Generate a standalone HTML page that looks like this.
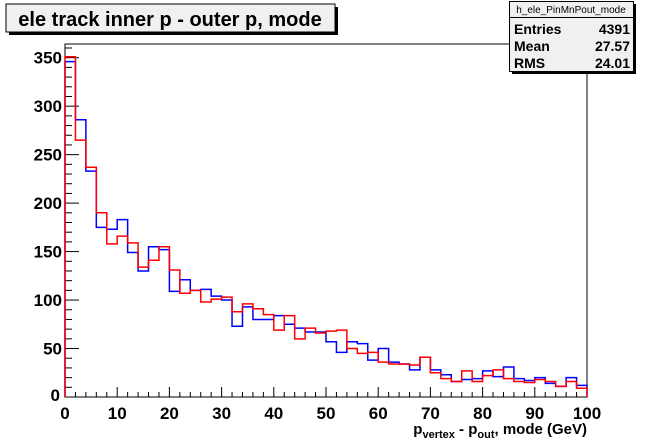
<!DOCTYPE html>
<html><head><meta charset="utf-8"><style>
body{margin:0;background:#fff;}
svg{display:block;font-family:"Liberation Sans",Arial,sans-serif;font-weight:bold;}
</style></head><body>
<svg width="653" height="441" viewBox="0 0 653 441">
<rect x="0" y="0" width="653" height="441" fill="#fff"/>
<g>
<rect x="9" y="7" width="329" height="28" fill="#000"/>
<rect x="6" y="4" width="329" height="28" fill="#f0f0f0" stroke="#000" stroke-width="1"/>
<text x="170" y="26" font-size="20" text-anchor="middle">ele track inner p - outer p, mode</text>
</g>
<rect x="65" y="44" width="522" height="353" fill="none" stroke="#000" stroke-width="1"/>
<g id="axes"></g>
<g id="series"></g>
<g>
<rect x="512" y="4" width="124" height="70" fill="#000"/>
<rect x="509.5" y="1.5" width="124" height="70" fill="#f0f0f0" stroke="#000" stroke-width="1"/>
<line x1="509.5" y1="17.5" x2="633.5" y2="17.5" stroke="#000"/>
<text x="571" y="13" font-size="10" font-weight="normal" text-anchor="middle">h_ele_PinMnPout_mode</text>
<text x="514" y="34" font-size="14">Entries</text>
<text x="630" y="34" font-size="14" text-anchor="end">4391</text>
<text x="514" y="51" font-size="14">Mean</text>
<text x="630" y="51" font-size="14" text-anchor="end">27.57</text>
<text x="514" y="68" font-size="14">RMS</text>
<text x="630" y="68" font-size="14" text-anchor="end">24.01</text>
</g>
<text x="587" y="434" font-size="15" text-anchor="end">p<tspan font-size="11" dy="4">vertex</tspan><tspan dy="-4"> - p</tspan><tspan font-size="11" dy="4">out</tspan><tspan dy="-4">, mode (GeV)</tspan></text>
</svg>
<script>
const xTicks=[0,10,20,30,40,50,60,70,80,90,100];
const yTicks=[0,50,100,150,200,250,300,350];
const binEdgesMin=0, binWidth=2;
const redVals=[351,265,237,190,158,166,159,134,141,155,131,107,110,98,101,103,88,96,91,85,69,84,60,71,66,68,69,50,45,46,36,34,34,33,41,25,19,16,27,16,22,28,19,16,15,18,16,11,16,9];
const blueVals=[346,286,233,175,173,183,149,130,155,152,109,121,110,111,104,100,73,93,80,80,84,75,71,67,67,57,46,57,55,38,50,36,34,28,41,28,23,16,18,19,27,21,31,19,17,20,14,11,20,12];
const NS="http://www.w3.org/2000/svg";
const X0=65,X1=587,Y0=397,Y350=57.7;
function xs(v){return X0+(v-0)/(100-0)*(X1-X0);}
function ys(v){return Y0-v*(Y0-Y350)/350;}
const axes=document.getElementById('axes');
function ln(x1,y1,x2,y2,name){const l=document.createElementNS(NS,'line');l.setAttribute('x1',x1);l.setAttribute('y1',y1);l.setAttribute('x2',x2);l.setAttribute('y2',y2);l.setAttribute('stroke','#000');l.setAttribute('stroke-width','1');


axes.appendChild(l);}
for(let v=0;v<=100;v+=2){const major=v%10===0;ln(xs(v),Y0,xs(v),Y0-(major?10:5),major?'x-major-tick':'x-minor-tick');}
for(let v=0;v<=360;v+=10){if(ys(v)<44)break;const major=v%50===0;ln(X0,ys(v),X0+(major?14:7),ys(v),major?'y-major-tick':'y-minor-tick');}
xTicks.forEach(v=>{const t=document.createElementNS(NS,'text');t.setAttribute('x',xs(v));t.setAttribute('y',419);t.setAttribute('font-size','17');t.setAttribute('text-anchor','middle');t.textContent=v;


axes.appendChild(t);});
yTicks.forEach(v=>{const t=document.createElementNS(NS,'text');t.setAttribute('x',v===0?60:62);t.setAttribute('y',ys(v)+(v===0?4:6));t.setAttribute('font-size','17');t.setAttribute('text-anchor','end');t.textContent=v;


axes.appendChild(t);});
const ser=document.getElementById('series');
function hist(vals,color,name){let d='M'+xs(binEdgesMin)+','+Y0;vals.forEach((v,i)=>{const a=xs(binEdgesMin+i*binWidth),b=xs(binEdgesMin+(i+1)*binWidth);d+=' L'+a+','+ys(v)+' L'+b+','+ys(v);});d+=' L'+xs(binEdgesMin+vals.length*binWidth)+','+Y0;
const p=document.createElementNS(NS,'path');p.setAttribute('d',d);p.setAttribute('fill','none');p.setAttribute('stroke',color);p.setAttribute('stroke-width','1.5');


ser.appendChild(p);}
hist(blueVals,'#0000ff','blue-histogram');
hist(redVals,'#ff0000','red-histogram');
</script>
</body></html>
